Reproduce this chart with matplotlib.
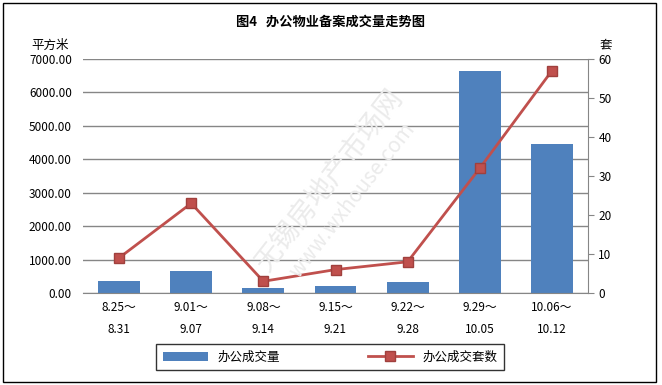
import numpy as np
import matplotlib
matplotlib.use("Agg")
import matplotlib.pyplot as plt
from matplotlib.patches import Rectangle

plt.rcParams['font.family'] = ['Noto Sans CJK SC', 'DejaVu Sans']

# data
weeks = ['8.25～\n8.31', '9.01～\n9.07', '9.08～\n9.14', '9.15～\n9.21',
         '9.22～\n9.28', '9.29～\n10.05', '10.06～\n10.12']
area = [370, 660, 160, 220, 330, 6650, 4460]      # 办公成交量, 平方米
units = [9, 23, 3, 6, 8, 32, 57]                  # 办公成交套数, 套
left_ticks = [0, 1000, 2000, 3000, 4000, 5000, 6000, 7000]
right_ticks = [0, 10, 20, 30, 40, 50, 60]

bar_c = '#4F81BD'
line_c = '#C0504D'
grid_c = '#868686'

fig = plt.figure(figsize=(6.62, 3.85), dpi=100)
ax = fig.add_axes((83/662, 1-293/385, (588-83)/662, (293-59)/385))
x = np.arange(len(weeks))

bars = ax.bar(x, area, width=0.58, color=bar_c, zorder=2, label='办公成交量')
ax.set_xlim(-0.5, len(weeks)-0.5)
ax.set_ylim(0, 7000)
ax.set_yticks(left_ticks)
ax.set_yticklabels(['%.2f' % v for v in left_ticks], fontsize=8.5)
ax.set_xticks(x)
ax.set_xticklabels(weeks, fontsize=8.5, linespacing=1.9)
ax.tick_params(axis='x', length=0, pad=6)
ax.tick_params(axis='y', length=0, pad=8)
ax.yaxis.grid(True, color=grid_c, lw=1, zorder=0)
for s in ['left', 'top', 'right']:
    ax.spines[s].set_visible(False)
ax.spines['bottom'].set_color(grid_c)

ax2 = ax.twinx()
ln, = ax2.plot(x, units, '-s', color=line_c, lw=2, ms=7,
               mfc=line_c, mec='#A0403D', zorder=3, label='办公成交套数')
ax2.set_ylim(0, 60)
ax2.set_yticks(right_ticks)
ax2.tick_params(axis='y', labelsize=8.5, length=4, color=grid_c, direction='out')
for s in ['left', 'top', 'bottom']:
    ax2.spines[s].set_visible(False)
ax2.spines['right'].set_color(grid_c)

fig.text(330/662, 1-22/385, '图4   办公物业备案成交量走势图', ha='center', va='center',
         fontsize=9.5, fontweight='bold')
fig.text(50/662, 1-45/385, '平方米', ha='center', va='center', fontsize=9)
fig.text(606/662, 1-45/385, '套', ha='center', va='center', fontsize=9)

# watermark
fig.text(330/662, 1-180/385, '无锡房地产市场网', rotation=52, ha='center', va='center',
         fontsize=20, color='#EBEBEB', zorder=0)
fig.text(352/662, 1-200/385, 'www.wxhouse.com', rotation=52, ha='center', va='center',
         fontsize=15, color='#EBEBEB', zorder=0)

leg = fig.legend([bars, ln], ['办公成交量', '办公成交套数'], ncol=2,
                 loc='center', bbox_to_anchor=(330/662, 1-357/385),
                 fontsize=9, frameon=True, fancybox=False, edgecolor='black',
                 columnspacing=7, handlelength=3.6, borderpad=0.55,
                 borderaxespad=0)
leg.get_frame().set_linewidth(1)

fig.patches.append(Rectangle((3/662, 3/385), 653/662, 379/385,
                             transform=fig.transFigure, fill=False,
                             edgecolor='black', lw=1))

fig.savefig('out.png', dpi=100)
